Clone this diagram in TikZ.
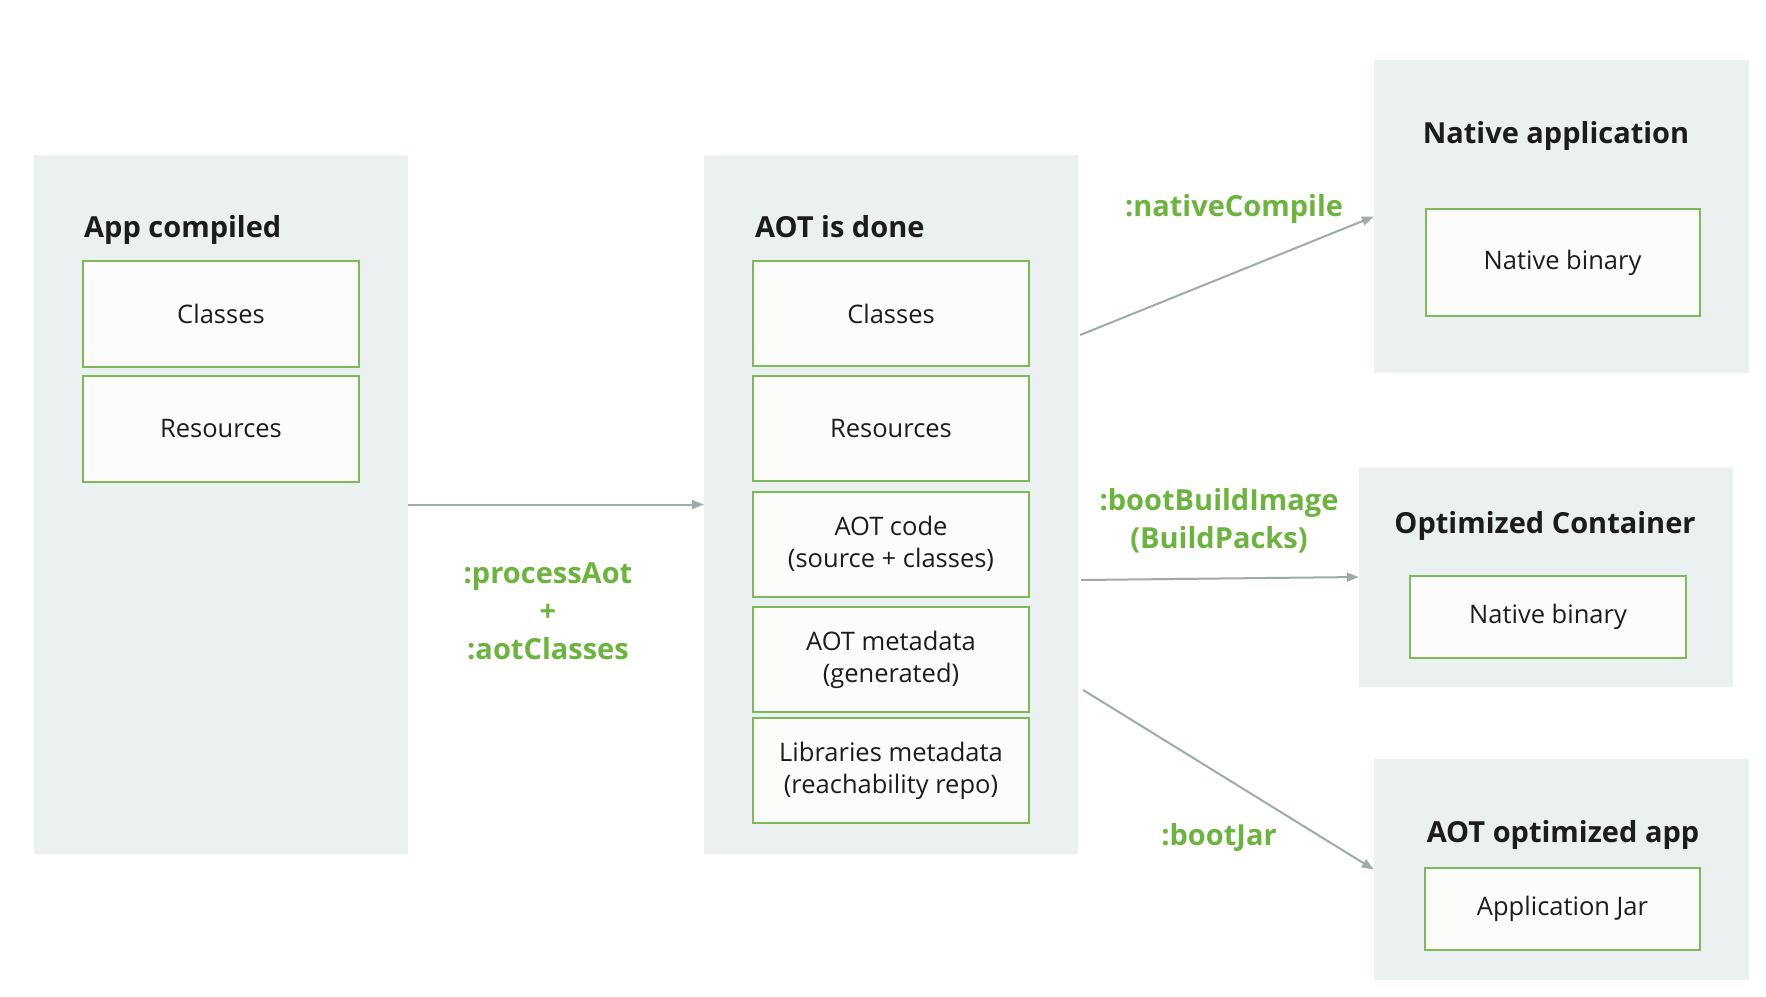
\documentclass[tikz,border=0pt]{standalone}
\usepackage{fontspec}
\setmainfont{Open Sans}
\usetikzlibrary{arrows.meta,calc}
\definecolor{panelbg}{HTML}{EBF0F0}
\definecolor{boxgreen}{HTML}{7DB85A}
\definecolor{labelgreen}{HTML}{6DB33F}
\definecolor{arrowgray}{HTML}{9EAAAC}
\definecolor{textdark}{HTML}{1C1C1C}
\definecolor{boxfill}{HTML}{FCFCFA}
\begin{document}
\begin{tikzpicture}[x=1pt,y=-1pt,
  panel/.style={rectangle, fill=panelbg, draw=none, inner sep=0pt},
  itembox/.style={rectangle, fill=boxfill, draw=boxgreen, line width=2pt, inner sep=0pt,
    text=textdark, align=center, font=\fontsize{25.5}{32}\selectfont},
  paneltitle/.style={inner sep=0pt, text=textdark, font=\fontsize{29}{34}\selectfont\bfseries},
  steplabel/.style={inner sep=0pt, text=labelgreen, align=center, font=\fontsize{29}{38}\selectfont\bfseries},
  flow/.style={draw=arrowgray, line width=2pt, -{Triangle[length=12pt,width=9pt]}}
]
\useasboundingbox[fill=white] (0,0) rectangle (1766,996);

% panels
\node[panel, minimum width=374pt, minimum height=699pt] (p1) at (221,504.5) {};
\node[panel, minimum width=374pt, minimum height=699pt] (p2) at (891,504.5) {};
\node[panel, minimum width=375pt, minimum height=313pt] (p3) at (1561.5,216.5) {};
\node[panel, minimum width=374pt, minimum height=220pt] (p4) at (1546,577) {};
\node[panel, minimum width=375pt, minimum height=221pt] (p5) at (1561.5,869.5) {};

% titles
\node[paneltitle, anchor=base west] (t1) at (84,237) {App compiled};
\node[paneltitle, anchor=base west] (t2) at (755,237) {AOT is done};
\node[paneltitle, anchor=base] (t3) at (1556,143) {Native application};
\node[paneltitle, anchor=base] (t4) at (1545,533) {Optimized Container};
\node[paneltitle, anchor=base] (t5) at (1563,842) {AOT optimized app};

% boxes panel 1
\node[itembox, minimum width=276pt, minimum height=106pt] (c1) at (221,314) {Classes};
\node[itembox, minimum width=276pt, minimum height=106pt] (r1) at (221,429) {Resources};

% boxes panel 2
\node[itembox, minimum width=276pt, minimum height=105pt] (c2) at (891,313.5) {Classes};
\node[itembox, minimum width=276pt, minimum height=105pt] (r2) at (891,428.5) {Resources};
\node[itembox, minimum width=276pt, minimum height=105pt] (a2) at (891,544) {AOT code\\(source + classes)};
\node[itembox, minimum width=276pt, minimum height=105pt] (m2) at (891,659.5) {AOT metadata\\(generated)};
\node[itembox, minimum width=276pt, minimum height=105pt] (l2) at (891,770.5) {Libraries metadata\\(reachability repo)};

% boxes right panels
\node[itembox, minimum width=274pt, minimum height=107pt] (b3) at (1562.5,262.5) {Native binary};
\node[itembox, minimum width=276pt, minimum height=82pt] (b4) at (1548,617) {Native binary};
\node[itembox, minimum width=275pt, minimum height=82pt] (b5) at (1562.5,909) {Application Jar};

% connectors
\draw[flow] (p1.east) -- (p2.west);
\draw[flow] ([xshift=2pt,yshift=169.5pt]p2.east) -- (p3.west);
\draw[flow] ([xshift=3pt,yshift=-75.5pt]p2.east) -- (p4.west);
\draw[flow] ([xshift=5pt,yshift=-185.5pt]p2.east) -- (p5.west);

% labels
\node[steplabel] (s1) at (548,611) {:processAot\\+\\:aotClasses};
\node[steplabel, anchor=base] (s2) at (1234,216) {:nativeCompile};
\node[steplabel] (s3) at (1219,521) {:bootBuildImage\\(BuildPacks)};
\node[steplabel, anchor=base] (s4) at (1219,845) {:bootJar};
\end{tikzpicture}
\end{document}
